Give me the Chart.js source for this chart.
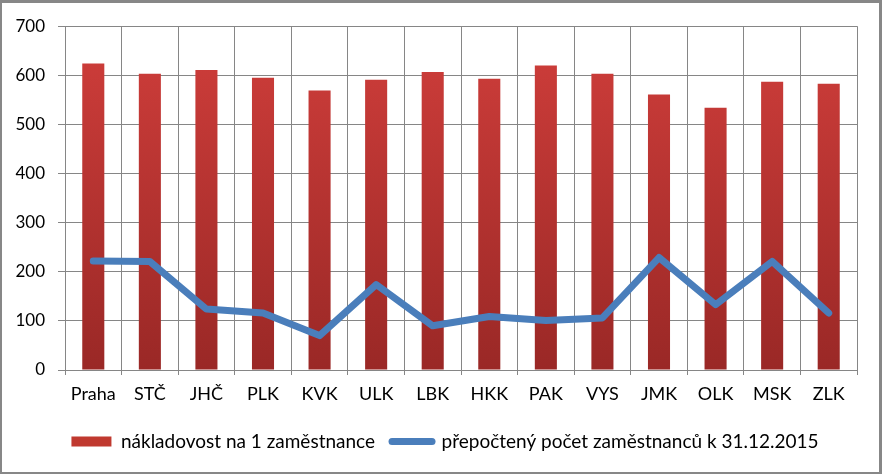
<!DOCTYPE html>
<html><head><meta charset="utf-8">
<script src="https://cdn.jsdelivr.net/npm/chart.js@4/dist/chart.umd.min.js"></script>
<style>
html,body{margin:0;padding:0;background:#fff;}
#wrap{position:absolute;left:0;top:0;width:882px;height:474px;box-sizing:border-box;border-style:solid;border-color:#878787;border-width:3px 3px 2px 2px;background:#fff;}
#c{display:block;}
</style></head><body>
<div id="wrap"><canvas id="c" width="877" height="469"></canvas></div>
<script>
const categories = ['Praha','STČ','JHČ','PLK','KVK','ULK','LBK','HKK','PAK','VYS','JMK','OLK','MSK','ZLK'];
const costPerEmployee = [624,603,611,595,569,591,607,593,620,603,561,534,587,583];
const employees = [222,221,124,116,70,174,90,109,101,106,229,133,221,116];
const yTicks = [0,100,200,300,400,500,600,700];
const seriesNames = ['nákladovost na 1 zaměstnance','přepočtený počet zaměstnanců k 31.12.2015'];

const gridColor = '#868686';
const xFont = {family: 'Lato, "Liberation Sans", sans-serif', size: 18};
const yFont = {family: 'Lato, "Liberation Sans", sans-serif', size: 17};
const legendFont = {family: 'Lato, "Liberation Sans", sans-serif', size: 19};

function barGradient(context) {
  const chart = context.chart;
  const area = chart.chartArea;
  if (!area) return '#c0392f';
  const g = chart.ctx.createLinearGradient(0, area.top, 0, area.bottom);
  g.addColorStop(0, '#d03e3b');
  g.addColorStop(1, '#9a2826');
  return g;
}

const legendShift = {
  id: 'legendShift',
  afterLayout(chart) {
    const l = chart.legend;
    if (!l) return;
    const target = 443;
    const shift = target - (l.left + l.right) / 2;
    l.left += shift; l.right += shift;
  }
};

new Chart(document.getElementById('c'), {
  data: {
    labels: categories,
    datasets: [
      {
        type: 'bar',
        label: seriesNames[0],
        data: costPerEmployee,
        backgroundColor: barGradient,
        borderWidth: 0,
        categoryPercentage: 1,
        barPercentage: 0.39,
        order: 1
      },
      {
        type: 'line',
        label: seriesNames[1],
        data: employees,
        borderColor: '#4a7ebb',
        backgroundColor: '#4a7ebb',
        borderWidth: 7,
        borderCapStyle: 'round',
        borderJoinStyle: 'round',
        pointRadius: 0,
        tension: 0,
        fill: false,
        order: 0
      }
    ]
  },
  plugins: [legendShift],
  options: {
    responsive: false,
    animation: false,
    layout: {padding: {left: 5, right: 22, top: 21, bottom: 11}},
    plugins: {
      tooltip: {enabled: false},
      legend: {
        position: 'bottom',
        align: 'center',
        labels: {
          font: legendFont,
          color: '#000',
          usePointStyle: true,
          pointStyleWidth: 40,
          boxHeight: 10,
          padding: 17,
          generateLabels(chart) {
            const items = Chart.defaults.plugins.legend.labels.generateLabels(chart);
            items.sort((a, b) => a.datasetIndex - b.datasetIndex);
            items.forEach(it => {
              if (it.datasetIndex === 0) { it.fillStyle = '#c0392f'; it.pointStyle = 'rect'; it.lineWidth = 0; }
              else { it.pointStyle = 'line'; it.lineCap = 'round'; it.lineWidth = 7; it.strokeStyle = '#4a7ebb'; }
            });
            return items;
          }
        }
      }
    },
    scales: {
      x: {
        grid: {color: gridColor, offset: true, tickLength: 5, drawTicks: true},
        border: {color: gridColor},
        ticks: {font: xFont, color: '#000', padding: 8, maxRotation: 0, autoSkip: false},
        afterFit(s) { s.height = 45; }
      },
      y: {
        min: 0, max: 700,
        afterBuildTicks(s) { s.ticks = yTicks.map(v => ({value: v})); },
        grid: {color: gridColor, tickLength: 7},
        border: {color: gridColor},
        ticks: {font: yFont, color: '#000', padding: 13},
        afterFit(s) { s.width = 58; }
      }
    }
  }
});
</script>
</body></html>
